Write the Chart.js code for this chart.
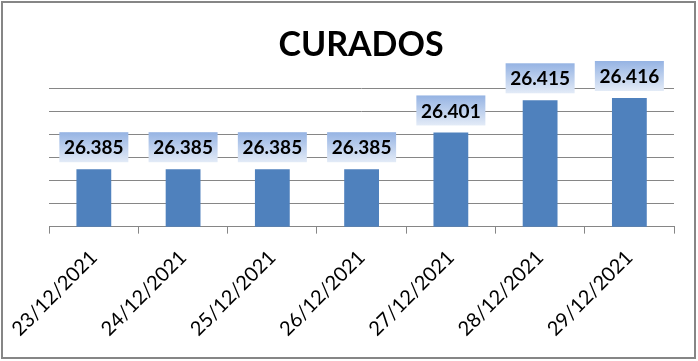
<!DOCTYPE html>
<html>
<head>
<meta charset="utf-8">
<script src="https://cdn.jsdelivr.net/npm/chart.js@4.4.1/dist/chart.umd.min.js"></script>
<style>
    body { margin: 0; background: #fff; }
    #wrap { width: 698px; height: 361px; position: relative; }
</style>
</head>
<body>
<div id="wrap"><canvas id="curadosChart"></canvas></div>
<script>
const dias = ['23/12/2021', '24/12/2021', '25/12/2021', '26/12/2021', '27/12/2021', '28/12/2021', '29/12/2021'];
const curados = [26385, 26385, 26385, 26385, 26401, 26415, 26416];
const yMin = 26360;
const yMax = 26420;
const yStep = 10;

const fmt = v => String(v).replace(/\B(?=(\d{3})+(?!\d))/g, '.');

// moldura cinza em volta do grafico
const frame = {
    id: 'frame',
    beforeDraw(chart) {
        const ctx = chart.ctx;
        ctx.save();
        ctx.fillStyle = '#fff';
        ctx.fillRect(0, 0, chart.width, chart.height);
        ctx.strokeStyle = '#868686';
        ctx.lineWidth = 2;
        ctx.strokeRect(2, 2, chart.width - 5, chart.height - 5);
        ctx.restore();
    }
};

// rotulos com caixa em degrade acima das barras
const valueBoxes = {
    id: 'valueBoxes',
    afterDatasetsDraw(chart) {
        const ctx = chart.ctx;
        const meta = chart.getDatasetMeta(0);
        ctx.save();
        ctx.font = 'bold 19px Lato';
        ctx.textAlign = 'center';
        ctx.textBaseline = 'middle';
        meta.data.forEach((bar, i) => {
            const w = 69, h = 30;
            const x = bar.x - w / 2;
            const y = bar.y - 7 - h;
            const g = ctx.createLinearGradient(0, y, 0, y + h);
            g.addColorStop(0, '#95b3e3');
            g.addColorStop(1, '#e3ebf7');
            ctx.fillStyle = g;
            ctx.fillRect(x, y, w, h);
            ctx.fillStyle = '#000';
            ctx.fillText(fmt(curados[i]), bar.x, y + h / 2 + 1);
        });
        ctx.restore();
    }
};

const ctx = document.getElementById('curadosChart').getContext('2d');

new Chart(ctx, {
    type: 'bar',
    data: {
        labels: dias,
        datasets: [{
            label: 'Curados',
            data: curados,
            backgroundColor: '#4f81bd',
            barPercentage: 0.39,
            categoryPercentage: 1,
        }]
    },
    options: {
        responsive: true,
        maintainAspectRatio: false,
        animation: false,
        layout: {
            padding: { top: 4, left: 48, right: 24, bottom: 8 }
        },
        scales: {
            x: {
                grid: {
                    drawOnChartArea: false,
                    drawTicks: true,
                    tickLength: 7,
                    color: '#868686',
                },
                border: { display: true, color: '#868686' },
                ticks: {
                    minRotation: 45,
                    maxRotation: 45,
                    color: '#000',
                    padding: 12,
                    font: { family: 'Lato', size: 20 }
                }
            },
            y: {
                min: yMin,
                max: yMax,
                ticks: { display: false, stepSize: yStep },
                grid: { color: '#868686', drawTicks: false },
                border: { display: false }
            }
        },
        plugins: {
            legend: { display: false },
            tooltip: { enabled: false },
            title: {
                display: true,
                text: 'CURADOS',
                color: '#000',
                padding: { top: 21, bottom: 23 },
                font: { family: 'Lato', size: 34, weight: 'bold' }
            }
        }
    },
    plugins: [frame, valueBoxes]
});
</script>
</body>
</html>
